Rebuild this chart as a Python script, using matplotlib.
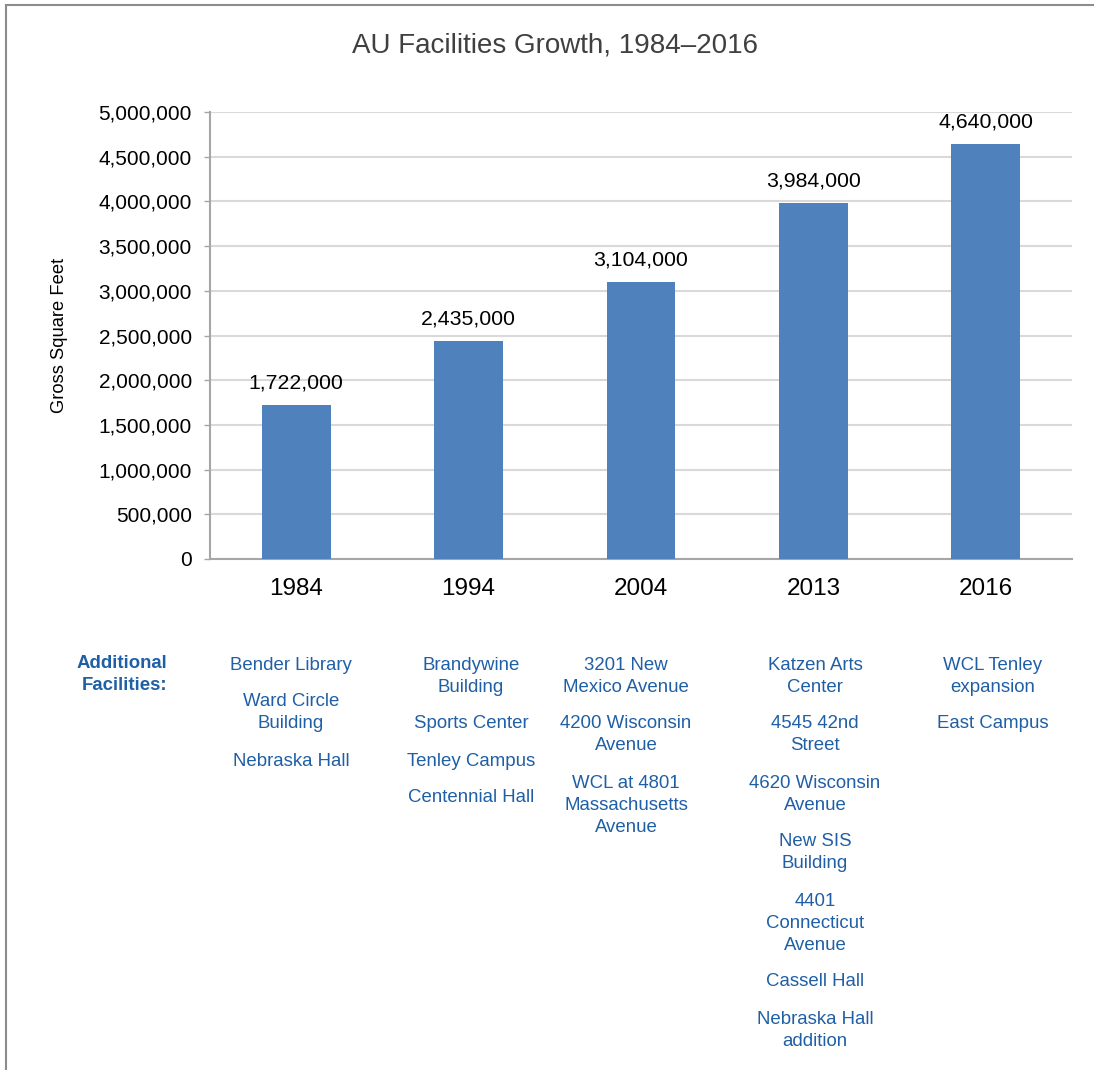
import numpy as np
import matplotlib
matplotlib.use("Agg")
from matplotlib import pyplot as plt
from matplotlib.lines import Line2D
from matplotlib.ticker import FuncFormatter

plt.rcParams['font.family'] = ['Liberation Sans', 'DejaVu Sans']

# data
YEARS = ['1984', '1994', '2004', '2013', '2016']
SQFT = [1722000, 2435000, 3104000, 3984000, 4640000]
FACILITIES = [
    ['Bender Library', 'Ward Circle\nBuilding', 'Nebraska Hall'],
    ['Brandywine\nBuilding', 'Sports Center', 'Tenley Campus', 'Centennial Hall'],
    ['3201 New\nMexico Avenue', '4200 Wisconsin\nAvenue',
     'WCL at 4801\nMassachusetts\nAvenue'],
    ['Katzen Arts\nCenter', '4545 42nd\nStreet', '4620 Wisconsin\nAvenue',
     'New SIS\nBuilding', '4401\nConnecticut\nAvenue', 'Cassell Hall',
     'Nebraska Hall\naddition'],
    ['WCL Tenley\nexpansion', 'East Campus'],
]
TITLE = 'AU Facilities Growth, 1984\u20132016'

W, H = 1094, 1070
BAR = '#4F81BD'
BLUE = '#1F5FA6'
GRID = '#D9D9D9'
SPINE = '#A6A6A6'

fig = plt.figure(figsize=(W / 100, H / 100), dpi=100)

def fx(px):
    return px / W

def fy(py):
    return 1 - py / H

ax = fig.add_axes([fx(210), fy(559), fx(1072) - fx(210), fy(112) - fy(559)])
x = np.arange(len(YEARS))
bars = ax.bar(x, SQFT, width=0.4, color=BAR, zorder=3)
ax.set_xlim(-0.5, len(YEARS) - 0.5)
ax.set_ylim(0, 5000000)
ax.set_yticks(np.arange(0, 5000001, 500000))
ax.yaxis.set_major_formatter(FuncFormatter(lambda v, p: '{:,.0f}'.format(v)))
ax.set_xticks(x)
ax.set_xticklabels(YEARS)
ax.tick_params(axis='x', length=0, pad=14, labelsize=17.5)
ax.tick_params(axis='y', length=4, width=1, color=SPINE, pad=9, labelsize=15)
ax.grid(axis='y', color=GRID, linewidth=1.5, zorder=0)
for s in ['top', 'right']:
    ax.spines[s].set_visible(False)
for s in ['left', 'bottom']:
    ax.spines[s].set_color(SPINE)
    ax.spines[s].set_linewidth(1.5)

for b, v in zip(bars, SQFT):
    ax.annotate('{:,}'.format(v), (b.get_x() + b.get_width() / 2, v),
                xytext=(0, 9), textcoords='offset points',
                ha='center', va='bottom', fontsize=15.3)

fig.text(fx(555), fy(46), TITLE, ha='center', va='center',
         fontsize=20, color='#404040')
fig.text(fx(59), fy(335), 'Gross Square Feet', rotation=90,
         ha='center', va='center', fontsize=13.2)

# additional facilities table
fig.text(fx(167), fy(664), 'Additional', ha='right', va='center',
         fontsize=13.4, color=BLUE, fontweight='bold')
fig.text(fx(167), fy(686), 'Facilities:', ha='right', va='center',
         fontsize=13.4, color=BLUE, fontweight='bold')
col_x = [291, 471, 626, 815, 993]
for cx, items in zip(col_x, FACILITIES):
    ypos = 665
    for item in items:
        lines = item.split('\n')
        for ln in lines:
            fig.text(fx(cx), fy(ypos), ln, ha='center', va='center',
                     fontsize=13.4, color=BLUE)
            ypos += 22
        ypos += 15

# outer frame (left and top edges visible)
fig.add_artist(Line2D([fx(6), fx(6)], [0, fy(5)], color='#8C8C8C', lw=1.5))
fig.add_artist(Line2D([fx(6), 1], [fy(5), fy(5)], color='#8C8C8C', lw=1.5))

fig.savefig('out.png', dpi=100)
